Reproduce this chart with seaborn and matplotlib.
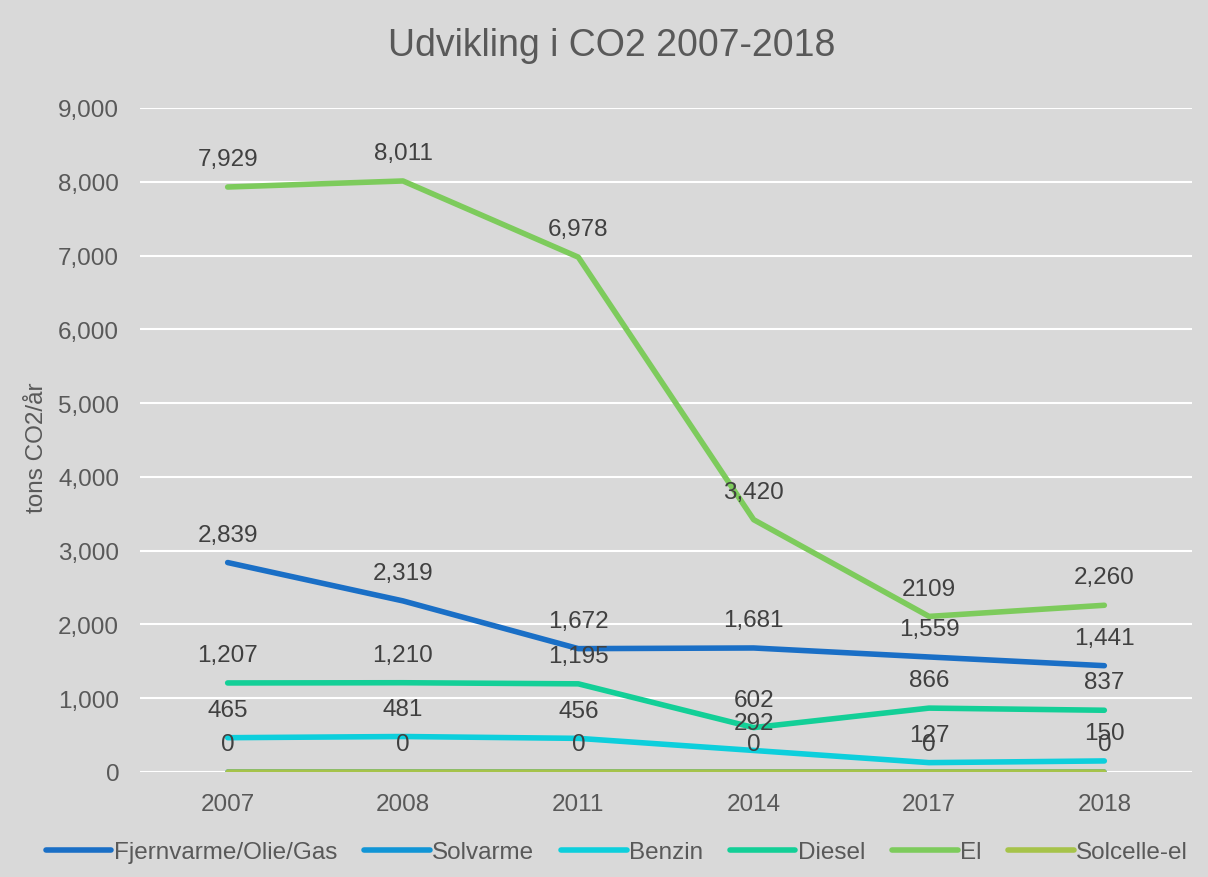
import pandas as pd
import numpy as np
import seaborn as sns
import matplotlib.pyplot as plt

years = ['2007', '2008', '2011', '2014', '2017', '2018']
series_names = ['Fjernvarme/Olie/Gas', 'Solvarme', 'Benzin', 'Diesel', 'El', 'Solcelle-el']
fjernvarme = [2839, 2319, 1672, 1681, 1559, 1441]
solvarme = [0, 0, 0, 0, 0, 0]
benzin = [465, 481, 456, 292, 127, 150]
diesel = [1207, 1210, 1195, 602, 866, 837]
el = [7929, 8011, 6978, 3420, 2109, 2260]
solcelle = [0, 0, 0, 0, 0, 0]
# labels as shown in the chart (2017 El is shown without separator)
el_labels = ['7,929', '8,011', '6,978', '3,420', '2109', '2,260']
colors = ['#1a6fc6', '#1195d6', '#0dcfdc', '#13cf97', '#7dcb5c', '#a6c34a']

values = [fjernvarme, solvarme, benzin, diesel, el, solcelle]
rows = []
for name, vals in zip(series_names, values):
    for y, v in zip(years, vals):
        rows.append({'year': y, 'serie': name, 'value': v})
df = pd.DataFrame(rows)

sns.set_style('whitegrid')
plt.rcParams['font.family'] = ['Liberation Sans', 'DejaVu Sans']
fs = 17.5

fig = plt.figure(figsize=(12.08, 8.78), dpi=100)
fig.patch.set_facecolor('#d9d9d9')
ax = fig.add_axes([140 / 1208, 1 - 773 / 878, 1052 / 1208, 664 / 878])
ax.set_facecolor('#d9d9d9')

sns.lineplot(data=df, x='year', y='value', hue='serie', hue_order=series_names,
             palette=colors, linewidth=4, sort=False, ax=ax, legend=False)
for line in ax.lines:
    line.set_solid_capstyle('round')

ax.set_xlim(-0.5, 5.5)
ax.set_ylim(0, 9000)
ax.set_yticks(np.arange(0, 9001, 1000))
ax.set_yticklabels([f'{t:,}' for t in range(0, 9001, 1000)])
ax.grid(axis='y', color='white', linewidth=1.5)
ax.grid(axis='x', visible=False)
for s in ax.spines.values():
    s.set_visible(False)
ax.tick_params(axis='both', length=0, labelsize=fs, colors='#595959', pad=15)
ax.set_xlabel('')
ax.set_ylabel('tons CO2/år', fontsize=fs, color='#595959')
ax.yaxis.set_label_coords((48 - 140) / 1052, 0.49)

# data labels
for name, vals in zip(series_names, values):
    if name == 'Solcelle-el':
        continue
    for i, v in enumerate(vals):
        txt = el_labels[i] if name == 'El' else f'{v:,}'
        ax.annotate(txt, (i, v), xytext=(0, 20), textcoords='offset points',
                    ha='center', va='center', fontsize=fs, color='#404040')

fig.text(612 / 1208, 1 - 56 / 878, 'Udvikling i CO2 2007-2018', ha='center', va='baseline',
         fontsize=27, color='#595959')

handles = [plt.Line2D([0], [0], color=c, linewidth=4, solid_capstyle='round') for c in colors]
fig.legend(handles, series_names, loc='center', bbox_to_anchor=(617 / 1208, 1 - 853 / 878),
           ncol=6, frameon=False, fontsize=fs, handlelength=2.7, handletextpad=0.1,
           columnspacing=1.1, labelcolor='#595959')

fig.savefig('out.png', dpi=100, facecolor=fig.get_facecolor())
